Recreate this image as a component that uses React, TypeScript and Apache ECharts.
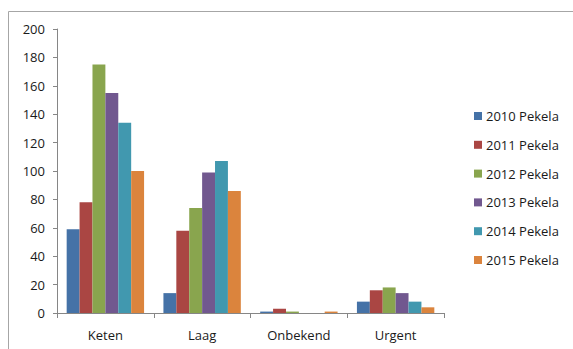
import React, { useEffect, useRef } from "react";
import * as echarts from "echarts";

const categories = ["Keten", "Laag", "Onbekend", "Urgent"];
const seriesNames = ["2010 Pekela", "2011 Pekela", "2012 Pekela", "2013 Pekela", "2014 Pekela", "2015 Pekela"];
const s2010 = [59, 14, 1, 8];
const s2011 = [78, 58, 3, 16];
const s2012 = [175, 74, 1, 18];
const s2013 = [155, 99, 0, 14];
const s2014 = [134, 107, 0, 8];
const s2015 = [100, 86, 1, 4];
const seriesValues = [s2010, s2011, s2012, s2013, s2014, s2015];
const colors = ["#4572A7", "#AA4643", "#89A54E", "#71588F", "#4198AF", "#DB843D"];

export default function App() {
  const ref = useRef<HTMLDivElement>(null);
  useEffect(() => {
    if (!ref.current) return;
    const chart = echarts.init(ref.current, null, { renderer: "svg" });
    const font = "'Open Sans', sans-serif";
    chart.setOption({
      animation: false,
      color: colors,
      textStyle: { fontFamily: font },
      graphic: [
        {
          type: "rect",
          shape: { x: 8.5, y: 11.5, width: 700, height: 500 },
          style: { fill: "none", stroke: "#A6A6A6", lineWidth: 1 },
          silent: true,
        },
      ],
      grid: { left: 57, right: 129, top: 29, bottom: 36, containLabel: false },
      legend: {
        orient: "vertical",
        left: 469,
        top: 104,
        itemWidth: 8,
        itemHeight: 8,
        itemGap: 14.8,
        icon: "rect",
        textStyle: { fontSize: 13, color: "#1a1a1a", lineHeight: 14, fontFamily: font, padding: [0, 0, 0, -1] },
        data: seriesNames,
      },
      xAxis: {
        type: "category",
        data: categories,
        axisLine: { lineStyle: { color: "#868686" } },
        axisTick: { show: true, length: 5, lineStyle: { color: "#868686" } },
        axisLabel: { fontSize: 13, color: "#1a1a1a", margin: 15, fontFamily: font },
      },
      yAxis: {
        type: "value",
        min: 0,
        max: 200,
        interval: 20,
        splitLine: { show: false },
        axisLine: { show: true, lineStyle: { color: "#868686" } },
        axisTick: { show: true, length: 4, lineStyle: { color: "#868686" } },
        axisLabel: { fontSize: 13, color: "#1a1a1a", margin: 12, fontFamily: font },
      },
      series: seriesNames.map((name, i) => ({
        name,
        type: "bar",
        data: seriesValues[i],
        barGap: "0%",
        barCategoryGap: "20%",
      })),
    });
    return () => chart.dispose();
  }, []);
  return <div ref={ref} style={{ position: "absolute", left: 0, top: 0, width: 573, height: 349 }} />;
}
